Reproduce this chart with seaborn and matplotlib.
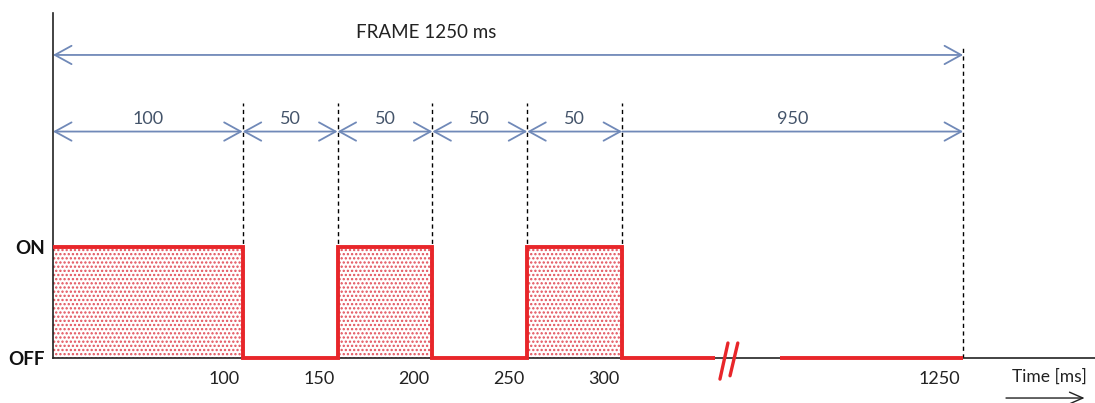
import numpy as np
import pandas as pd
import matplotlib
matplotlib.use("Agg")
import matplotlib.pyplot as plt
import matplotlib.transforms as mtransforms
import seaborn as sns

# ---------------- data ----------------
edge_times = [0, 100, 150, 200, 250, 300, 1250]      # ms, interval boundaries
states = [1, 0, 1, 0, 1, 0]                           # 1 = ON, 0 = OFF per interval
segment_labels = ["100", "50", "50", "50", "50", "950"]
tick_times = [100, 150, 200, 250, 300, 1250]
tick_labels = ["100", "150", "200", "250", "300", "1250"]
state_labels = ["OFF", "ON"]
frame_label = "FRAME 1250 ms"
frame_ms = 1250
break_ms = [560, 740]                                 # hidden stretch of the long OFF interval
axis_label = "Time [ms]"

# ---------------- styling ----------------
sns.set_theme(style="white")
plt.rcParams["font.family"] = ["Lato", "DejaVu Sans"]
plt.rcParams["hatch.linewidth"] = 1.1

RED = "#E8262A"
BLUE = "#7089B8"
LABEL_BLUE = "#44546A"

# compressed axis beyond 300 ms
KNEE = 300.0
SQUEEZE = 0.1892


def fwd(t):
    t = np.asarray(t, dtype=float)
    return np.where(t <= KNEE, t, KNEE + (t - KNEE) * SQUEEZE)


def inv(u):
    u = np.asarray(u, dtype=float)
    return np.where(u <= KNEE, u, KNEE + (u - KNEE) / SQUEEZE)


fig = plt.figure(figsize=(10.95, 4.03), dpi=100)
ax = fig.add_axes([53 / 1095, 1 - 358 / 403, 1 - 53 / 1095, 345 / 403])
ax.set_xscale("function", functions=(fwd, inv))
ax.set_xlim(0, float(inv(1042 / 1.897)))
ax.set_ylim(0, 3.108)

# hatched ON areas
for a, b, s in zip(edge_times[:-1], edge_times[1:], states):
    if s == 1:
        ax.fill_between([a, b], 0, 1, facecolor="white", edgecolor="#E2505B",
                        hatch="....", linewidth=0, zorder=1)

# signal (two pieces around the break)
sig1 = pd.DataFrame({"t": edge_times[:-1] + [break_ms[0]],
                     "s": states + [states[-1]]})
sig2 = pd.DataFrame({"t": [break_ms[1], edge_times[-1]],
                     "s": [states[-1], states[-1]]})
for df in (sig1, sig2):
    sns.lineplot(data=df, x="t", y="s", ax=ax, estimator=None, sort=False,
                 drawstyle="steps-post", color=RED, linewidth=2.8,
                 solid_joinstyle="miter", solid_capstyle="butt",
                 clip_on=False, zorder=4)

# break marks
u0 = float(fwd(break_ms[0]))
for du_bot, du_top, y_bot in [(2.4, 6.6, -0.19), (7.7, 11.8, -0.16)]:
    ax.plot(inv([u0 + du_bot, u0 + du_top]), [y_bot, 0.135], color=RED,
            lw=2.4, solid_capstyle="round", clip_on=False, zorder=5)

# dashed guides
ax.vlines(edge_times[1:-1], 0, 2.30, colors="black", linestyles=(0, (3, 2.5)),
          lw=1.0, zorder=2)
ax.vlines([frame_ms], 0, 2.82, colors="black", linestyles=(0, (3, 2.5)),
          lw=1.0, zorder=2)

# segment arrows + labels
y_seg = 2.04
for i, (a, b, lab) in enumerate(zip(edge_times[:-1], edge_times[1:], segment_labels)):
    style = "<->" if i < len(segment_labels) - 1 else "->"
    ax.annotate("", xy=(b, y_seg), xytext=(a, y_seg),
                arrowprops=dict(arrowstyle=style + ",head_length=1.0,head_width=0.55",
                                color=BLUE, lw=1.3, shrinkA=0, shrinkB=0),
                zorder=3)
    mid = float(inv((fwd(a) + fwd(b)) / 2))
    ax.text(mid, 2.15, lab, ha="center", va="center", fontsize=13,
            color=LABEL_BLUE)

# frame arrow + label
y_fr = 2.73
ax.annotate("", xy=(frame_ms, y_fr), xytext=(0, y_fr),
            arrowprops=dict(arrowstyle="<->,head_length=1.0,head_width=0.55",
                            color=BLUE, lw=1.3, shrinkA=0, shrinkB=0))
ax.text(0.358, 2.93, frame_label, transform=ax.get_yaxis_transform(),
        ha="center", va="center", fontsize=13.5, color="#222222")

# axes
for side in ("top", "right"):
    ax.spines[side].set_visible(False)
for side in ("left", "bottom"):
    ax.spines[side].set_color("#222222")
    ax.spines[side].set_linewidth(1.2)

ax.set_xticks(tick_times, tick_labels)
ax.set_yticks([0, 1], state_labels)
ax.tick_params(axis="both", length=0)
ax.tick_params(axis="x", pad=9, labelsize=13, labelcolor="#222222")
ax.tick_params(axis="y", pad=6, labelsize=13.5, labelcolor="#111111")
for lab in ax.get_yticklabels():
    lab.set_fontweight("bold")
shift = mtransforms.ScaledTranslation(-3 / 100, 0, fig.dpi_scale_trans)
for lab in ax.get_xticklabels():
    lab.set_horizontalalignment("right")
    lab.set_transform(lab.get_transform() + shift)
ax.set_xlabel("")
ax.set_ylabel("")

# time axis label with arrow
ax.text(0.920, -0.053, axis_label, transform=ax.transAxes, ha="left",
        va="center", fontsize=12.5, color="#222222")
ax.annotate("", xy=(0.990, -0.116), xytext=(0.9146, -0.116),
            xycoords="axes fraction", textcoords="axes fraction",
            arrowprops=dict(arrowstyle="->,head_length=0.8,head_width=0.35",
                            color="#222222", lw=1.0, shrinkA=0, shrinkB=0),
            annotation_clip=False)

fig.savefig("out.png", dpi=100)
